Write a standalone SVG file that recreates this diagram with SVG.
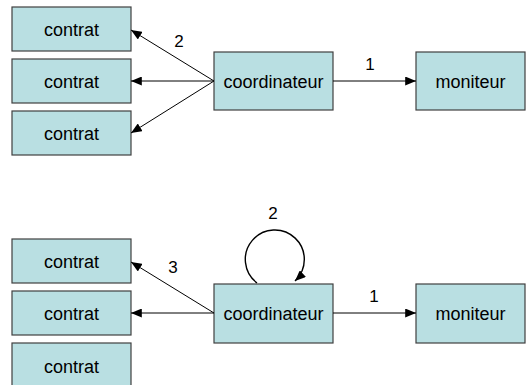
<svg xmlns="http://www.w3.org/2000/svg" width="526" height="385" viewBox="0 0 526 385">
<style>
.box{fill:#b9dfe2;stroke:#404040;stroke-width:1.2}
.lbl{font-family:"Liberation Sans",Arial,sans-serif;font-size:18px;fill:#000;text-anchor:middle}
.num{font-family:"Liberation Sans",Arial,sans-serif;font-size:17px;fill:#000;text-anchor:middle}
.edge{stroke:#000;stroke-width:1;fill:none;marker-end:url(#ah)}
</style>
<defs>
<marker id="ah" viewBox="0 0 12 10" refX="12" refY="5" markerWidth="11" markerHeight="9" markerUnits="userSpaceOnUse" orient="auto">
<path d="M0,0 L12,5 L0,10 z" fill="#000"/>
</marker>
</defs>
<rect width="526" height="385" fill="#fff"/>
<g id="c1"><rect class="box" x="12" y="7" width="119" height="44"/><text class="lbl" x="71.5" y="36">contrat</text></g>
<g id="c2"><rect class="box" x="12" y="59" width="119" height="44"/><text class="lbl" x="71.5" y="88">contrat</text></g>
<g id="c3"><rect class="box" x="12" y="111" width="119" height="44"/><text class="lbl" x="71.5" y="140">contrat</text></g>
<g id="coord1"><rect class="box" x="214" y="52" width="119" height="58"/><text class="lbl" x="273.5" y="88">coordinateur</text></g>
<g id="mon1"><rect class="box" x="416" y="52" width="109" height="58"/><text class="lbl" x="470.5" y="88">moniteur</text></g>
<g id="c4"><rect class="box" x="12" y="239" width="119" height="44"/><text class="lbl" x="71.5" y="268">contrat</text></g>
<g id="c5"><rect class="box" x="12" y="291" width="119" height="44"/><text class="lbl" x="71.5" y="320">contrat</text></g>
<g id="c6"><rect class="box" x="12" y="343" width="119" height="50"/><text class="lbl" x="71.5" y="373">contrat</text></g>
<g id="coord2"><rect class="box" x="214" y="284" width="119" height="59"/><text class="lbl" x="273.5" y="320">coordinateur</text></g>
<g id="mon2"><rect class="box" x="416" y="284" width="109" height="59"/><text class="lbl" x="470.5" y="320">moniteur</text></g>
<g id="connectors">
<line class="edge" x1="333" y1="81" x2="416" y2="81"/>
<line class="edge" x1="214" y1="81" x2="131" y2="30"/>
<line class="edge" x1="214" y1="81" x2="131" y2="81"/>
<line class="edge" x1="214" y1="81" x2="131" y2="133"/>
<line class="edge" x1="333" y1="313" x2="416" y2="313"/>
<line class="edge" x1="214" y1="313" x2="131" y2="262"/>
<line class="edge" x1="214" y1="313" x2="131" y2="313"/>
<path class="edge" style="stroke-width:1.4" d="M257,283 A29.5,29.5 0 1 1 295,281"/>
<text class="num" x="370" y="70">1</text>
<text class="num" x="179" y="47">2</text>
<text class="num" x="374" y="302">1</text>
<text class="num" x="173" y="273">3</text>
<text class="num" x="273" y="219">2</text>
</g>
</svg>
